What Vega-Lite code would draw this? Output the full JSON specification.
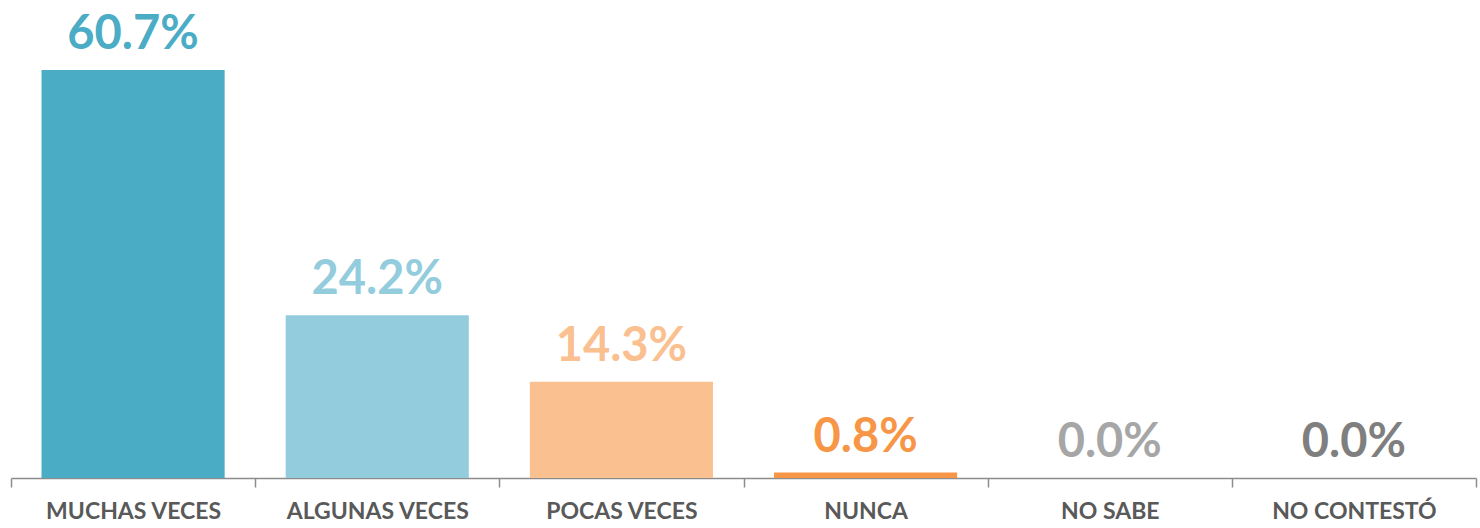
{
  "$schema": "https://vega.github.io/schema/vega-lite/v6.json",
  "width": 1465,
  "height": 478,
  "padding": {"left": 10, "right": 5, "top": 0, "bottom": 0},
  "background": "white",
  "config": {"view": {"stroke": null}},
  "data": {"values": [
    {"respuesta": "MUCHAS VECES", "valor": 0.607},
    {"respuesta": "ALGUNAS VECES", "valor": 0.242},
    {"respuesta": "POCAS VECES", "valor": 0.143},
    {"respuesta": "NUNCA", "valor": 0.008},
    {"respuesta": "NO SABE", "valor": 0.0},
    {"respuesta": "NO CONTESTÓ", "valor": 0.0}
  ]},
  "encoding": {
    "x": {"field": "respuesta", "type": "nominal", "sort": null,
      "scale": {"paddingInner": 0, "paddingOuter": 0},
      "axis": {"title": null, "labelAngle": 0, "domainColor": "#8c8c8c", "domainWidth": 1.5,
        "tickColor": "#8c8c8c", "tickWidth": 1.5, "tickSize": 9, "tickBand": "extent",
        "labelFont": "Lato", "labelFontWeight": "bold", "labelFontSize": 23, "labelColor": "#595959",
        "labelPadding": 13, "labelLimit": 0}},
    "y": {"field": "valor", "type": "quantitative", "scale": {"domain": [0, 0.711]}, "axis": null},
    "color": {"field": "respuesta", "type": "nominal", "sort": null, "legend": null,
      "scale": {"domain": ["MUCHAS VECES", "ALGUNAS VECES", "POCAS VECES", "NUNCA", "NO SABE", "NO CONTESTÓ"],
        "range": ["#4BACC6", "#93CDDD", "#FAC090", "#F79646", "#A6A6A6", "#7F7F7F"]}}
  },
  "layer": [
    {"mark": {"type": "bar", "width": {"band": 0.75}}},
    {"mark": {"type": "text", "baseline": "alphabetic", "dy": -21, "font": "Lato", "fontWeight": "bold", "fontSize": 47},
      "encoding": {"text": {"field": "valor", "type": "quantitative", "format": ".1%"}}}
  ]
}
